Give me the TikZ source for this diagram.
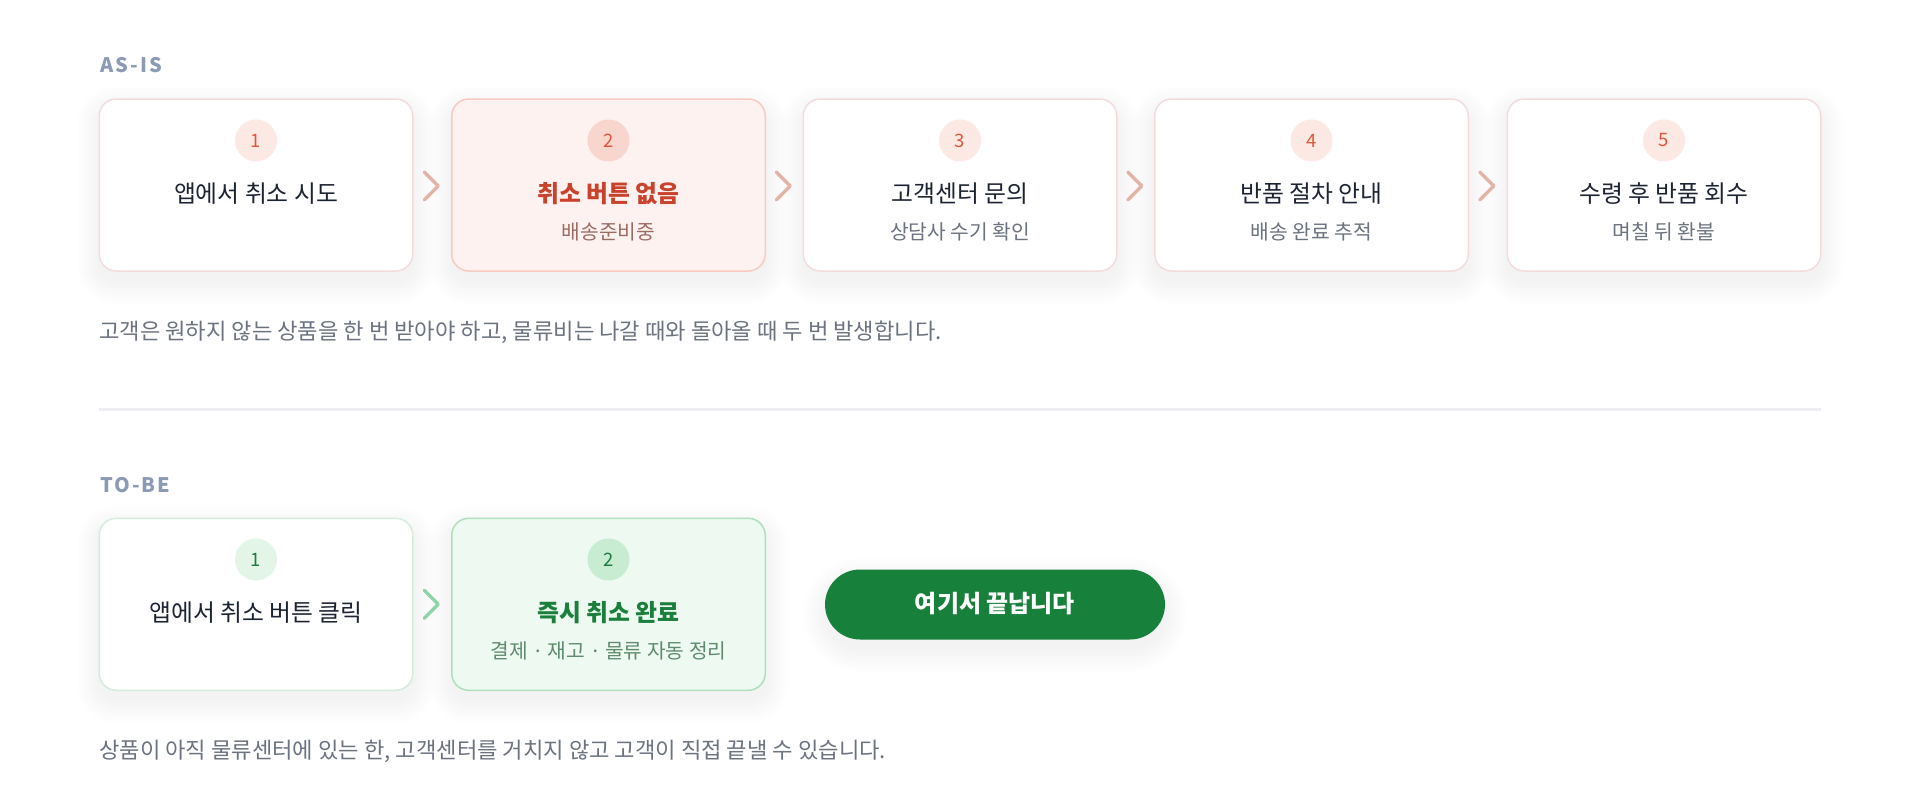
\documentclass[tikz,border=0pt]{standalone}
\usepackage{fontspec}
\setmainfont{Noto Sans CJK KR}
\newfontfamily\labelfont[LetterSpace=10]{Noto Sans CJK KR}
\newfontfamily\latinfont{Noto Sans}
\usetikzlibrary{calc}
\pgfdeclarelayer{bgwhite}
\pgfdeclarelayer{bgshadow}
\pgfsetlayers{bgwhite,bgshadow,main}
\definecolor{lblc}{HTML}{8C9BB5}
\definecolor{pinkbd}{HTML}{F4DCDC}
\definecolor{pinkhlfill}{HTML}{FEF2F0}
\definecolor{pinkhlbd}{HTML}{F8CBC0}
\definecolor{pinkbadge}{HTML}{FDE9E4}
\definecolor{pinkbadgehl}{HTML}{F9D6CD}
\definecolor{rednum}{HTML}{E0573D}
\definecolor{pinkchev}{HTML}{E5B3A5}
\definecolor{titlec}{HTML}{1C2333}
\definecolor{subc}{HTML}{6B7280}
\definecolor{redtitle}{HTML}{C9432C}
\definecolor{redsub}{HTML}{9C6C63}
\definecolor{capc}{HTML}{6B7280}
\definecolor{divc}{HTML}{ECEEF2}
\definecolor{greenbd}{HTML}{D4EEDC}
\definecolor{greenhlfill}{HTML}{EEF9F1}
\definecolor{greenhlbd}{HTML}{AEE0BC}
\definecolor{greenbadge}{HTML}{E2F5E7}
\definecolor{greenbadgehl}{HTML}{C8ECD2}
\definecolor{greennum}{HTML}{1E7A3E}
\definecolor{greenchev}{HTML}{8FD4A6}
\definecolor{greentitle}{HTML}{197F3B}
\definecolor{greensub}{HTML}{5D8B6B}
\definecolor{pillc}{HTML}{17803A}
\tikzset{
  card/.style={rectangle, rounded corners=17pt, minimum width=313.5pt, minimum height=172pt, line width=1.5pt, inner sep=0pt},
  pinkcard/.style={card, draw=pinkbd, fill=white},
  pinkcardhl/.style={card, draw=pinkhlbd, fill=pinkhlfill},
  greencard/.style={card, draw=greenbd, fill=white},
  greencardhl/.style={card, draw=greenhlbd, fill=greenhlfill},
  badge/.style={circle, minimum size=42pt, inner sep=0pt, font=\fontsize{18.5pt}{20pt}\selectfont},
  title/.style={anchor=base, inner sep=0pt, font=\fontsize{23.8pt}{27pt}\selectfont, text=titlec},
  titlebold/.style={title, font=\bfseries\fontsize{23.8pt}{27pt}\selectfont},
  subt/.style={anchor=base, inner sep=0pt, font=\fontsize{20.3pt}{24pt}\selectfont, text=subc},
  caption/.style={anchor=base west, inner sep=0pt, font=\fontsize{22.2pt}{26pt}\selectfont, text=capc},
  seclabel/.style={anchor=base west, inner sep=0pt, font=\labelfont\bfseries\fontsize{20pt}{22pt}\selectfont, text=lblc},
  chev/.style={line width=3.4pt, line cap=round, line join=round},
}
\newcommand{\chevron}[2]{\draw[chev, #2] ($(#1)+(-8,-14)$) -- ($(#1)+(6,0)$) -- ($(#1)+(-8,14)$);}
\newcommand{\sep}{\hspace{7.3pt}{\latinfont·}\hspace{7.3pt}}
% soft shadow behind node #1, corner radius #2, downward offset #3
\newcommand{\softshade}[3]{%
  \begin{pgfonlayer}{bgshadow}
  \foreach \e in {0,2,...,22}{
    \fill[black, opacity=0.0045, rounded corners=#2+\e*1pt]
      ($(#1.north west)+(-\e,-\e+#3)$) rectangle ($(#1.south east)+(\e,\e+#3)$);
  }
  \end{pgfonlayer}}
\begin{document}
\begin{tikzpicture}[x=1pt,y=-1pt]
\useasboundingbox (0,0) rectangle (1920,800);
\begin{pgfonlayer}{bgwhite}
\fill[white] (0,0) rectangle (1920,800);
\end{pgfonlayer}

% AS-IS
\node[seclabel] (lasis) at (100,73) {AS-IS};

\node[pinkcard] (a1) at (256,185) {};
\node[pinkcardhl] (a2) at (608.5,185) {};
\node[pinkcard] (a3) at (960,185) {};
\node[pinkcard] (a4) at (1311.5,185) {};
\node[pinkcard] (a5) at (1664,185) {};
\foreach \n in {a1,a2,a3,a4,a5}{\softshade{\n}{17}{10}}

\foreach \i/\cx in {1/256,3/960,4/1311.5,5/1664}{
  \node[badge, fill=pinkbadge, text=rednum] (ab\i) at (\cx,140.5) {\i};
}
\node[badge, fill=pinkbadgehl, text=rednum] (ab2) at (608.5,140.5) {2};

\node[title] (at1) at (256,202.8) {앱에서 취소 시도};
\node[titlebold, text=redtitle] (at2) at (608.5,202.8) {취소 버튼 없음};
\node[subt, text=redsub] (as2) at (608.5,239.2) {배송준비중};
\node[title] (at3) at (960,202.8) {고객센터 문의};
\node[subt] (as3) at (960,239.2) {상담사 수기 확인};
\node[title] (at4) at (1311.5,202.8) {반품 절차 안내};
\node[subt] (as4) at (1311.5,239.2) {배송 완료 추적};
\node[title] (at5) at (1664,202.8) {수령 후 반품 회수};
\node[subt] (as5) at (1664,239.2) {며칠 뒤 환불};

\coordinate (k12) at ($(a1.east)!0.5!(a2.west)+(0,1)$);
\coordinate (k23) at ($(a2.east)!0.5!(a3.west)+(0,1)$);
\coordinate (k34) at ($(a3.east)!0.5!(a4.west)+(0,1)$);
\coordinate (k45) at ($(a4.east)!0.5!(a5.west)+(0,1)$);
\chevron{k12}{pinkchev}
\chevron{k23}{pinkchev}
\chevron{k34}{pinkchev}
\chevron{k45}{pinkchev}

\node[caption] (cap1) at (99,339.5) {고객은 원하지 않는 상품을 한 번 받아야 하고, 물류비는 나갈 때와 돌아올 때 두 번 발생합니다.};

% divider
\coordinate (dl) at (99,409.5);
\coordinate (dr) at (1821,409.5);
\draw[divc, line width=3pt] (dl) -- (dr);

% TO-BE
\node[seclabel] (ltobe) at (100,492) {TO-BE};

\node[greencard] (b1) at (256,604.3) {};
\node[greencardhl] (b2) at (608.5,604.3) {};
\foreach \n in {b1,b2}{\softshade{\n}{17}{10}}
\node[badge, fill=greenbadge, text=greennum] (bb1) at (256,559.5) {1};
\node[badge, fill=greenbadgehl, text=greennum] (bb2) at (608.5,559.5) {2};
\node[title] (bt1) at (256,621.8) {앱에서 취소 버튼 클릭};
\node[titlebold, text=greentitle] (bt2) at (608.5,621.8) {즉시 취소 완료};
\node[subt, text=greensub] (bs2) at (608.5,658.2) {결제\sep 재고\sep 물류 자동 정리};

\coordinate (g12) at ($(b1.east)!0.5!(b2.west)+(0,0)$);
\chevron{g12}{greenchev}

\node[rectangle, rounded corners=35pt, minimum width=340pt, minimum height=70pt, fill=pillc, inner sep=0pt] (pill) at (995,604.5) {};
\softshade{pill}{35}{10}
\node[anchor=base, inner sep=0pt, text=white, font=\bfseries\fontsize{24pt}{28pt}\selectfont] (pilltxt) at (995,612.3) {여기서 끝납니다};

\node[caption] (cap2) at (99,758.5) {상품이 아직 물류센터에 있는 한, 고객센터를 거치지 않고 고객이 직접 끝낼 수 있습니다.};
\end{tikzpicture}
\end{document}
